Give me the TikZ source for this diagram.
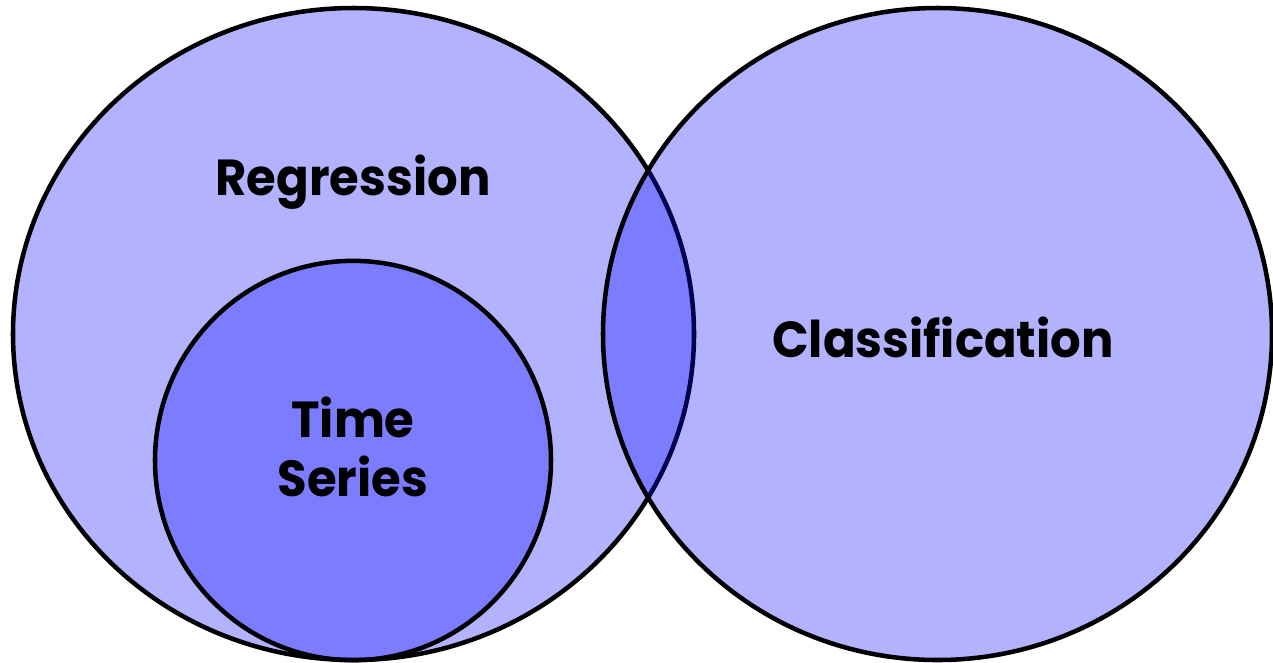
\documentclass[tikz,border=0pt]{standalone}
\usepackage{fontspec}
\setmainfont{Poppins}
\usetikzlibrary{shapes.geometric}
\definecolor{setblue}{RGB}{0,0,255}
\begin{document}
\begin{tikzpicture}[x=0.75pt,y=-0.75pt,
  setshape/.style={ellipse, draw=black, line width=3.4pt, fill=setblue, fill opacity=0.3, inner sep=0pt},
  setlabel/.style={text=black, anchor=base, align=center, inner sep=0pt, font=\bfseries\fontsize{38}{44}\selectfont}]
\useasboundingbox (0,0) rectangle (1273,662);
\node[setshape, minimum width=510.75pt, minimum height=489pt] (reg) at (353.5,334) {};
\node[setshape, minimum width=501.75pt, minimum height=489pt] (cls) at (937.5,334) {};
\node[setshape, minimum width=297pt, minimum height=299.5pt] (ts) at (353,460.5) {};
\node[setlabel, xscale=0.95] (reglabel) at (353,195) {Regression};
\node[setlabel, xscale=0.95] (clslabel) at (943,357) {Classification};
\node[setlabel, xscale=0.95] (tslabel) at (353,496) {Time\\Series};
\end{tikzpicture}
\end{document}
